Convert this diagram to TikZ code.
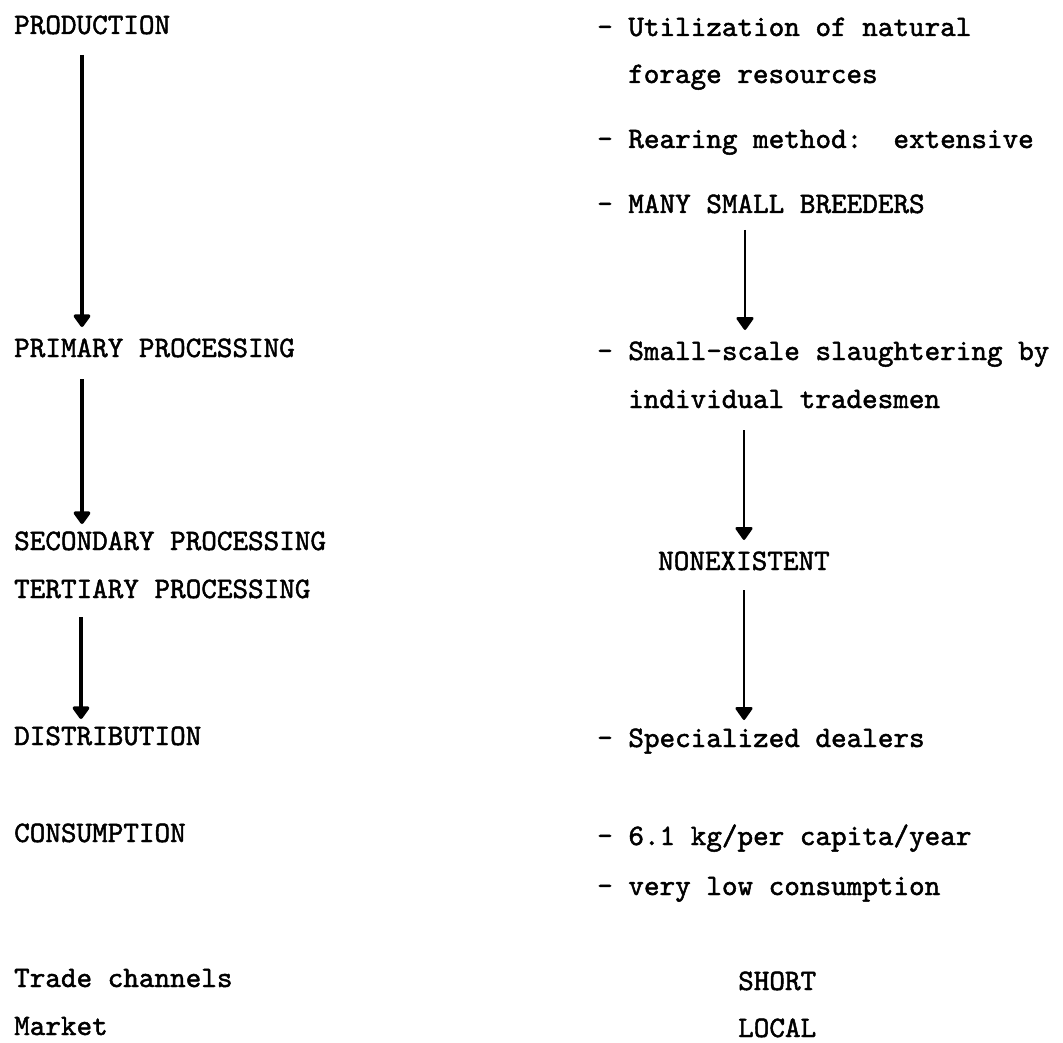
\documentclass[tikz,border=0pt]{standalone}
\usepackage{fontspec}
\newfontfamily\tw[RawFeature={embolden=1.6}]{lmmono10-regular.otf}
\usetikzlibrary{arrows.meta}
\begin{document}
\begin{tikzpicture}[x=1pt,y=-1pt,
  txt/.style={anchor=base west,inner sep=0pt,font=\tw\fontsize{29.7}{34}\selectfont},
  flow/.style={line width=3.4pt,-{Triangle[width=19pt,length=14pt,round]}}]
\useasboundingbox (0,0) rectangle (1063,1043);
% left column
\node[txt] (prod) at (14,34) {PRODUCTION};
\node[txt] (prim) at (14,357) {PRIMARY PROCESSING};
\node[txt] (sec) at (14,550) {SECONDARY PROCESSING};
\node[txt] (ter) at (14,598) {TERTIARY PROCESSING};
\node[txt] (dist) at (14,745) {DISTRIBUTION};
\node[txt] (cons) at (14,842) {CONSUMPTION};
\node[txt] (trade) at (14,987) {Trade channels};
\node[txt] (market) at (14,1035) {Market};
% right column
\node[txt] (util) at (597,36) {- Utilization of natural};
\node[txt] (forage) at (628,83) {forage resources};
\node[txt] (rear) at (597,148) {- Rearing method:\ \ extensive};
\node[txt] (many) at (597,213) {- MANY SMALL BREEDERS};
\node[txt] (small) at (597,360) {- Small-scale slaughtering by};
\node[txt] (indiv) at (628,408) {individual tradesmen};
\node[txt] (nonex) at (658,570) {NONEXISTENT};
\node[txt] (spec) at (597,747) {- Specialized dealers};
\node[txt] (kg) at (597,845) {- 6.1 kg/per capita/year};
\node[txt] (low) at (597,895) {- very low consumption};
\node[txt] (short) at (738,990) {SHORT};
\node[txt] (local) at (738,1037) {LOCAL};
% arrow end points
\coordinate (l1s) at (82,55);  \coordinate (l1e) at (82,327);
\coordinate (l2s) at (82,379); \coordinate (l2e) at (82,524);
\coordinate (l3s) at (81,617); \coordinate (l3e) at (81,719);
\coordinate (r1s) at (745,230); \coordinate (r1e) at (745,330);
\coordinate (r2s) at (744,430); \coordinate (r2e) at (744,540);
\coordinate (r3s) at (744,590); \coordinate (r3e) at (744,720);
\draw[flow] (l1s) -- (l1e);
\draw[flow] (l2s) -- (l2e);
\draw[flow] (l3s) -- (l3e);
\draw[flow,line width=2.6pt] (r1s) -- (r1e);
\draw[flow,line width=2.6pt] (r2s) -- (r2e);
\draw[flow,line width=2.6pt] (r3s) -- (r3e);
\end{tikzpicture}
\end{document}
